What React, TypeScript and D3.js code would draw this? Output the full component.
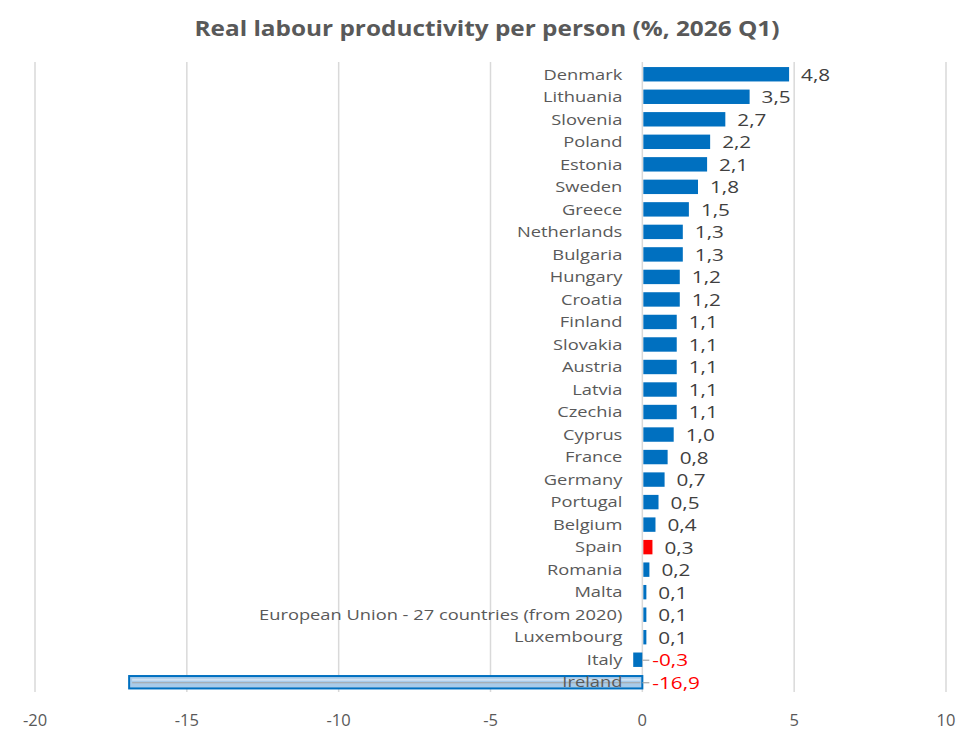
import * as d3 from 'd3';
import {useMemo} from 'react';

const WIDTH = 973;
const HEIGHT = 736;

const countries = [
  'Denmark', 'Lithuania', 'Slovenia', 'Poland', 'Estonia', 'Sweden', 'Greece',
  'Netherlands', 'Bulgaria', 'Hungary', 'Croatia', 'Finland', 'Slovakia', 'Austria',
  'Latvia', 'Czechia', 'Cyprus', 'France', 'Germany', 'Portugal', 'Belgium', 'Spain',
  'Romania', 'Malta', 'European Union - 27 countries (from 2020)', 'Luxembourg', 'Italy', 'Ireland',
];

const values = [
  4.8, 3.5, 2.7, 2.2, 2.1, 1.8, 1.5, 1.3, 1.3, 1.2, 1.2, 1.1, 1.1, 1.1,
  1.1, 1.1, 1.0, 0.8, 0.7, 0.5, 0.4, 0.3, 0.2, 0.1, 0.1, 0.1, -0.3, -16.9,
];

const xTicks = [-20, -15, -10, -5, 0, 5, 10];

const highlight = 'Spain';
const outlier = 'Ireland';

const FONT = '"Open Sans", "Noto Sans", sans-serif';

const fmt = (v: number) => v.toFixed(1).replace('.', ',');

// the source text is set a bit wider than Open Sans
const STRETCH = 1.22;

export default function App() {
  const x = useMemo(() => d3.scaleLinear().domain([-20, 10]).range([35, 946]), []);
  const y = useMemo(
    () => d3.scaleBand<string>().domain(countries).range([63, 693.5]).paddingInner(0.36).paddingOuter(0.18),
    []
  );

  const x0 = x(0);
  const bh = y.bandwidth();

  return (
    <svg width={WIDTH} height={HEIGHT} style={{display: 'block', margin: '-8px', background: '#fff'}}>
      <text
        transform={`translate(487,36) scale(1.16,1)`}
        textAnchor="middle"
        fontFamily={FONT}
        fontWeight="bold"
        fontSize={21}
        fill="#595959"
      >
        Real labour productivity per person (%, 2026 Q1)
      </text>

      {xTicks.map((t) => (
        <g key={t}>
          <line x1={x(t)} x2={x(t)} y1={62} y2={692} stroke="#d9d9d9" strokeWidth={1.5} />
          <text x={x(t)} y={726} textAnchor="middle" fontFamily={FONT} fontSize={16.5} fill="#595959">
            {t}
          </text>
        </g>
      ))}

      {countries.map((c, i) => {
        const v = values[i];
        const yy = y(c)!;
        const cy = yy + bh / 2;
        const isOut = c === outlier;
        const fill = c === highlight ? '#ff0000' : isOut ? '#a9cbe9' : '#0070c0';
        const left = Math.min(x(v), x0);
        const w = Math.abs(x(v) - x0);
        const labelX = v >= 0 ? x(v) + 13 : x0 + 10;
        return (
          <g key={c}>
            <rect
              x={left + (v >= 0 ? 1 : 0)}
              y={isOut ? yy + 1 : yy}
              width={Math.max(w, 2)}
              height={isOut ? bh - 2 : bh}
              fill={fill}
              stroke={isOut ? '#0070c0' : 'none'}
              strokeWidth={isOut ? 2 : 0}
            />
            {isOut && (
              <>
                <line x1={left + 3} x2={x0 - 2} y1={cy - 2.5} y2={cy - 2.5} stroke="#cfe2f4" strokeWidth={2} />
                <line x1={left + 3} x2={x0 - 2} y1={cy + 0.5} y2={cy + 0.5} stroke="#a6a6a6" strokeWidth={1.2} />
              </>
            )}
            <text
              transform={`translate(${x0 - 20},${cy}) scale(${STRETCH},1)`}
              dy="0.35em"
              textAnchor="end"
              fontFamily={FONT}
              fontSize={15}
              fill="#595959"
            >
              {c}
            </text>
            {v < 0 && (
              <line x1={x0} x2={x0 + 7} y1={cy + 0.5} y2={cy + 0.5} stroke="#a6a6a6" strokeWidth={1.2} />
            )}
            <text
              transform={`translate(${labelX},${cy}) scale(${STRETCH},1)`}
              dy="0.38em"
              fontFamily={FONT}
              fontSize={17}
              fill={v < 0 ? '#ff0000' : '#404040'}
            >
              {fmt(v)}
            </text>
          </g>
        );
      })}
    </svg>
  );
}
